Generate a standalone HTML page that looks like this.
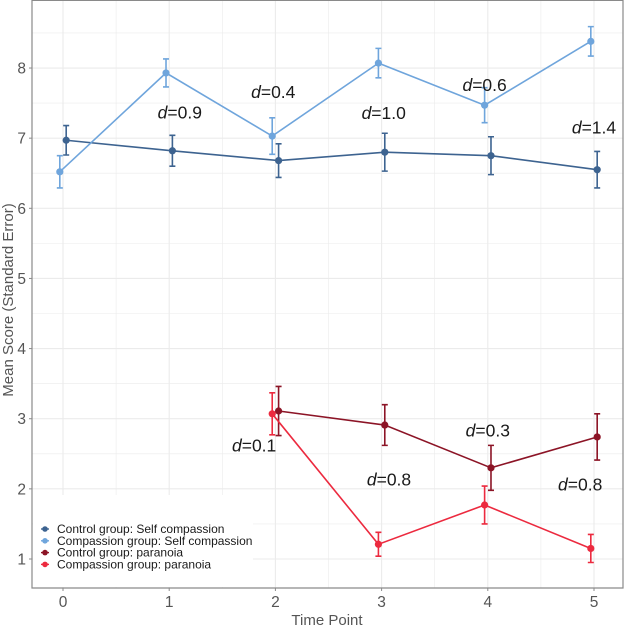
<!DOCTYPE html>
<html><head><meta charset="utf-8"><style>
body{margin:0;background:#fff;}
svg text{font-family:"Liberation Sans",sans-serif;}
</style></head><body>
<svg id="chart" width="625" height="627" xmlns="http://www.w3.org/2000/svg"></svg>
<script>
const timePoints=[0,1,2,3,4,5];
const ctrlSC=[6.97,6.82,6.68,6.80,6.75,6.55];
const ctrlSCse=[0.21,0.22,0.24,0.27,0.27,0.26];
const compSC=[6.52,7.93,7.03,8.07,7.47,8.38];
const compSCse=[0.23,0.2,0.26,0.21,0.25,0.21];
const paraTime=[2,3,4,5];
const ctrlPara=[3.11,2.91,2.30,2.74];
const ctrlParaSe=[0.35,0.29,0.32,0.33];
const compPara=[3.07,1.21,1.77,1.15];
const compParaSe=[0.3,0.17,0.27,0.2];
const yTicks=[1,2,3,4,5,6,7,8];
const xTicks=[0,1,2,3,4,5];
const dLabels=[["0.9",1.1,7.28],["0.4",1.98,7.57],["1.0",3.02,7.27],["0.6",3.97,7.67],["1.4",5.0,7.07],["0.1",1.8,2.53],["0.8",3.07,2.05],["0.3",4.0,2.75],["0.8",4.87,1.98]];
const legendItems=[["Control group: Self  compassion","#3d6390"],["Compassion group: Self  compassion","#6fa5dc"],["Control group: paranoia","#8c1426"],["Compassion group: paranoia","#ec2a3f"]];

const X=v=>63+v*106.2;
const Y=v=>559-(v-1)*70.14;
const L=32,R=623,T=0,B=588;
const svg=document.getElementById('chart');
const NS='http://www.w3.org/2000/svg';
function mk(tag,attrs,parent){const e=document.createElementNS(NS,tag);for(const k in attrs)e.setAttribute(k,attrs[k]);(parent||svg).appendChild(e);return e;}

const grid=mk('g',{});


for(let v=0.5;v<=8.5;v+=0.5){const y=Y(v);if(y<T||y>B)continue;mk('line',{x1:L,x2:R,y1:y,y2:y,stroke:'#ebebeb','stroke-width':Number.isInteger(v)?1.1:0.6},grid);}
for(let v=-0.5;v<=5.5;v+=0.5){const x=X(v);if(x<L||x>R)continue;mk('line',{x1:x,x2:x,y1:T,y2:B,stroke:'#ebebeb','stroke-width':Number.isInteger(v)?1.1:0.6},grid);}

const lb=mk('rect',{x:33,y:495,width:220,height:92,fill:'#fff'});



function series(name,xs,ys,se,color,off){
  const g=mk('g',{});
  
  
  mk('polyline',{points:xs.map((t,i)=>(X(t+off))+','+Y(ys[i])).join(' '),fill:'none',stroke:color,'stroke-width':1.6},g);
  xs.forEach((t,i)=>{
    const x=X(t+off);
    const eb=mk('path',{d:`M${x},${Y(ys[i]+se[i])}V${Y(ys[i]-se[i])}M${x-3},${Y(ys[i]+se[i])}h6M${x-3},${Y(ys[i]-se[i])}h6`,stroke:color,'stroke-width':1.6,fill:'none'},g);
    
    
    const p=mk('circle',{cx:x,cy:Y(ys[i]),r:3.6,fill:color},g);
    
    
  });
}
series('control-self-compassion-series',timePoints,ctrlSC,ctrlSCse,'#3d6390',0.03);
series('compassion-self-compassion-series',timePoints,compSC,compSCse,'#6fa5dc',-0.03);
series('control-paranoia-series',paraTime,ctrlPara,ctrlParaSe,'#8c1426',0.03);
series('compassion-paranoia-series',paraTime,compPara,compParaSe,'#ec2a3f',-0.03);

dLabels.forEach(d=>{
  const t=mk('text',{x:X(d[1]),y:Y(d[2]),'text-anchor':'middle','font-size':17.5,fill:'#1a1a1a'});
  
  
  const a=mk('tspan',{'font-style':'italic'},t);a.textContent='d';
  const b=mk('tspan',{},t);b.textContent='='+d[0];
});

const frame=mk('path',{d:`M${L},${T}V${B}H${R}V${T}`,fill:'none',stroke:'#8a8a8a','stroke-width':1.2});


mk('line',{x1:L,x2:R,y1:T+0.5,y2:T+0.5,stroke:'#8a8a8a','stroke-width':1});

yTicks.forEach(v=>{
  mk('line',{x1:L-3,x2:L,y1:Y(v),y2:Y(v),stroke:'#8a8a8a'});
  const t=mk('text',{x:L-6,y:Y(v)+5.5,'text-anchor':'end','font-size':15.5,fill:'#555'});
  
  
  t.textContent=v;
});
xTicks.forEach(v=>{
  mk('line',{x1:X(v),x2:X(v),y1:B,y2:B+3,stroke:'#8a8a8a'});
  const t=mk('text',{x:X(v),y:B+19,'text-anchor':'middle','font-size':15.5,fill:'#555'});
  
  
  t.textContent=v;
});
const xt=mk('text',{x:327,y:625,'text-anchor':'middle','font-size':15,fill:'#555'});


xt.textContent='Time Point';
const yt=mk('text',{x:0,y:0,'text-anchor':'middle','font-size':15,fill:'#555',transform:'translate(13,300) rotate(-90)'});


yt.textContent='Mean Score (Standard Error)';

legendItems.forEach((it,i)=>{
  const g=mk('g',{});
  
  
  const y=529+i*11.8;
  mk('circle',{cx:45,cy:y,r:2.8,fill:it[1]},g);
  mk('line',{x1:41,x2:49,y1:y,y2:y,stroke:it[1],'stroke-width':1.4},g);
  const t=mk('text',{x:57,y:y+4,'font-size':12,fill:'#1a1a1a'},g);
  t.textContent=it[0];
});
</script>
</body></html>
